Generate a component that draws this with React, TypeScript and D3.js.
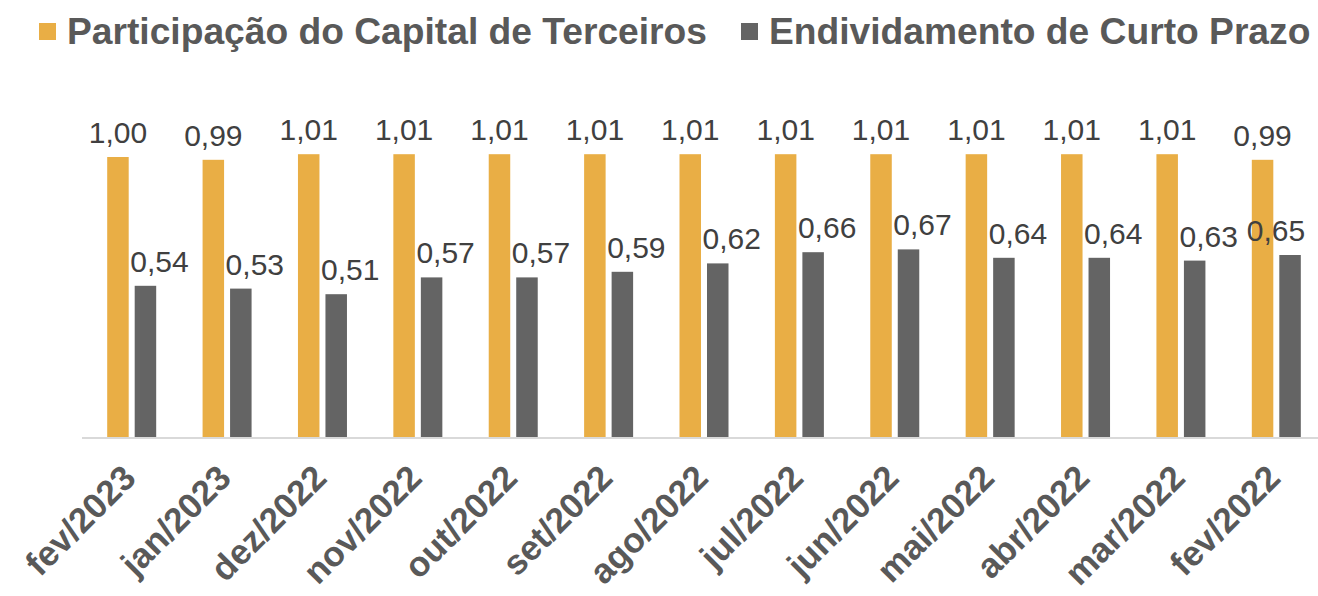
import * as d3 from "d3";
import React from "react";

const months = ["fev/2023", "jan/2023", "dez/2022", "nov/2022", "out/2022", "set/2022", "ago/2022", "jul/2022", "jun/2022", "mai/2022", "abr/2022", "mar/2022", "fev/2022"];
const capitalTerceiros = [1.0, 0.99, 1.01, 1.01, 1.01, 1.01, 1.01, 1.01, 1.01, 1.01, 1.01, 1.01, 0.99];
const curtoPrazo = [0.54, 0.53, 0.51, 0.57, 0.57, 0.59, 0.62, 0.66, 0.67, 0.64, 0.64, 0.63, 0.65];
const seriesNames = ["Participação do Capital de Terceiros", "Endividamento de Curto Prazo"];
const seriesColors = ["#E9AE45", "#646464"];

const FONT = "'Liberation Sans', Arial, sans-serif";

export default function App() {
  const width = 1318, height = 596;
  const baseY = 437;

  // escala das categorias e das séries dentro de cada grupo
  const x0 = d3.scaleBand().domain(months).range([84, 1324]).padding(0);
  const x1 = d3.scaleBand().domain(seriesNames).range([0, 49]).paddingInner(0.218).paddingOuter(0);
  const y = d3.scaleLinear().domain([0, 1]).range([baseY, 157]);
  const fmt = (v: number) => v.toFixed(2).replace(".", ",");

  const rows = months.map((m, i) => ({ m, vals: [capitalTerceiros[i], curtoPrazo[i]] }));

  return (
    <svg width={width} height={height} style={{ position: "absolute", left: 0, top: 0, background: "#fff" }}>
      {/* legenda */}
      <g fontFamily={FONT} fontWeight="bold" fontSize={37.2} fill="#595959">
        <rect x={39} y={23} width={17} height={17} fill={seriesColors[0]} />
        <text x={67} y={44}>{seriesNames[0]}</text>
        <rect x={741} y={23} width={17} height={17} fill={seriesColors[1]} />
        <text x={769} y={44}>{seriesNames[1]}</text>
      </g>

      <line x1={82} x2={1318} y1={baseY + 1} y2={baseY + 1} stroke="#D9D9D9" strokeWidth={2} />

      {rows.map((r) => {
        const gx = x0(r.m)! + x0.bandwidth() / 2 - 24.5;
        return (
          <g key={r.m} transform={`translate(${gx},0)`}>
            {r.vals.map((v, j) => (
              <rect key={j} x={x1(seriesNames[j])} y={y(v)} width={x1.bandwidth()} height={baseY - y(v)} fill={seriesColors[j]} />
            ))}
            {r.vals.map((v, j) => {
              const bc = x1(seriesNames[j])! + x1.bandwidth() / 2;
              // rótulos da série cinza ficam deslocados à direita (limitados à borda do gráfico)
              const lx = j === 0 ? bc : Math.min(bc + 14, 1276 - gx);
              return (
                <text key={"t" + j} x={lx} y={y(v) - 14} textAnchor="middle"
                  fontFamily={FONT} fontSize={30} fill="#404040">{fmt(v)}</text>
              );
            })}
          </g>
        );
      })}

      {/* rótulos do eixo */}
      {months.map((m) => {
        const cx = x0(m)! + x0.bandwidth() / 2 + 6;
        const cy = 480;
        return (
          <text key={m} transform={`translate(${cx},${cy}) rotate(-45)`} textAnchor="end"
            fontFamily={FONT} fontWeight="bold" fontSize={35} fill="#595959">{m}</text>
        );
      })}
    </svg>
  );
}
